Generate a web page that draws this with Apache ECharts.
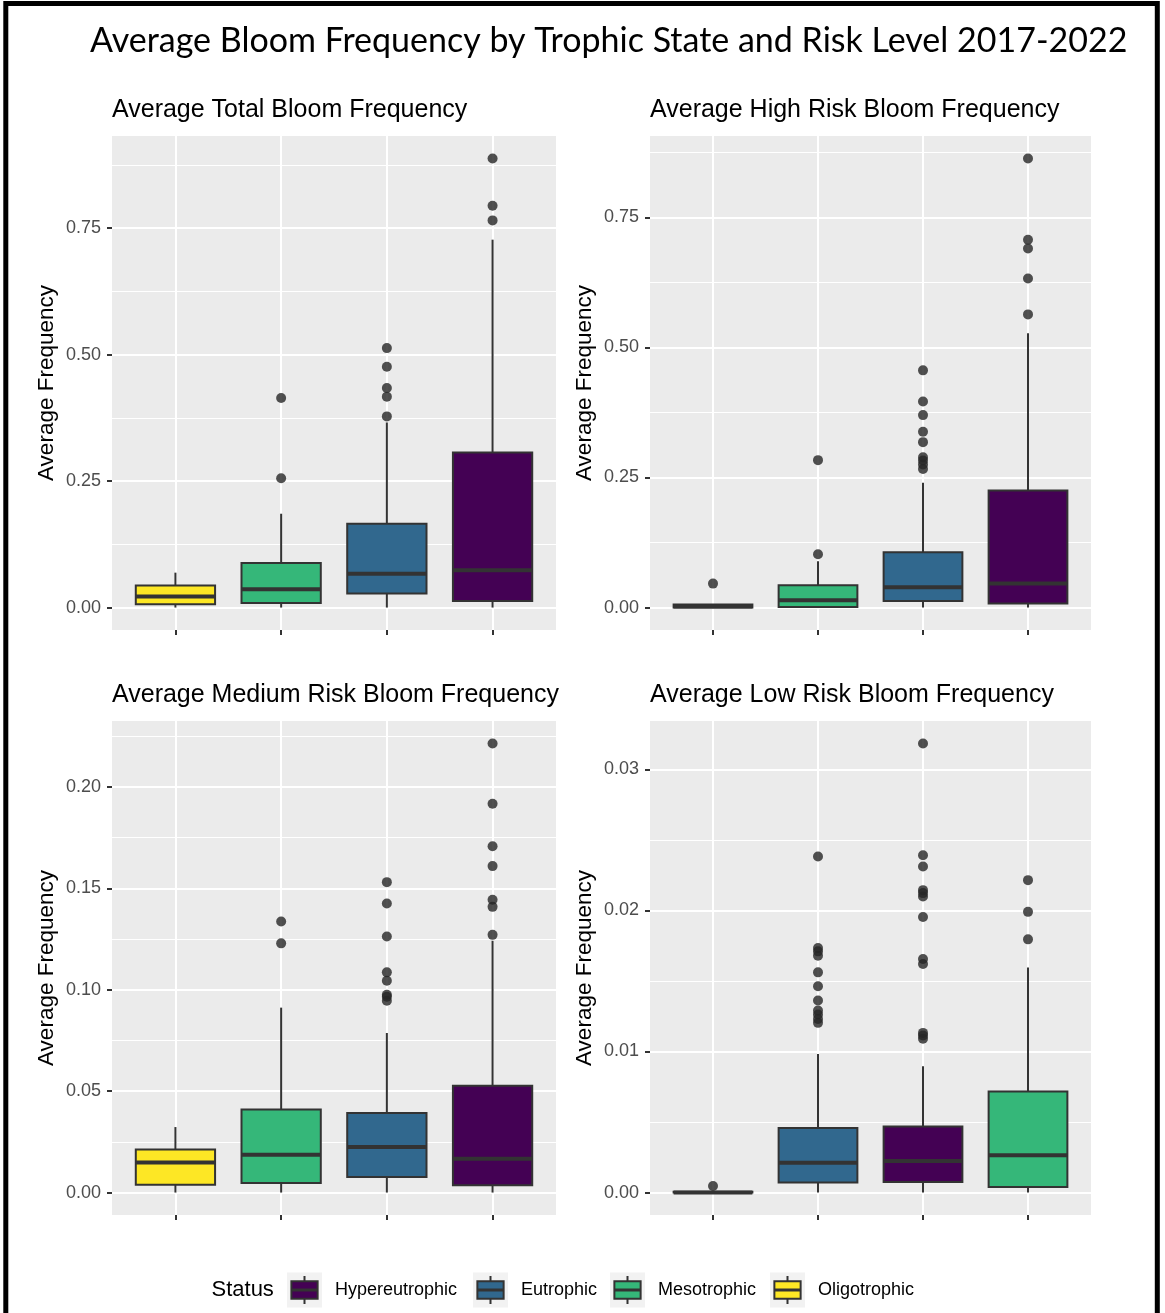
<!DOCTYPE html>
<html>
<head>
<meta charset="utf-8">
<script src="https://cdn.jsdelivr.net/npm/echarts@6/dist/echarts.min.js"></script>
<style>
html,body{margin:0;padding:0;background:#ffffff;}
#chart{width:1165px;height:1313px;}
</style>
</head>
<body>
<div id="chart"></div>
<script>
// ---------------- DATA ----------------
const mainTitle = 'Average Bloom Frequency by Trophic State and Risk Level 2017-2022';
const legendTitle = 'Status';
const legendStatuses = ['Hypereutrophic', 'Eutrophic', 'Mesotrophic', 'Oligotrophic'];
const statusColors = {
  Hypereutrophic: '#440154',
  Eutrophic: '#31688E',
  Mesotrophic: '#35B779',
  Oligotrophic: '#FDE725'
};
const yAxisTitle = 'Average Frequency';

// box stats: [lower whisker, Q1, median, Q3, upper whisker]
const totalTitle = 'Average Total Bloom Frequency';
const totalOrder = ['Oligotrophic', 'Mesotrophic', 'Eutrophic', 'Hypereutrophic'];
const totalBoxes = [
  [0, 0.0065, 0.022, 0.0434, 0.069],
  [0, 0.009, 0.036, 0.088, 0.1855],
  [0, 0.0276, 0.067, 0.1657, 0.366],
  [0, 0.013, 0.0736, 0.3064, 0.7274]
];
const totalOutliers = [
  [],
  [0.2558, 0.4143],
  [0.378, 0.417, 0.434, 0.476, 0.513],
  [0.7655, 0.7945, 0.888]
];
const totalMajorTicks = [0, 0.25, 0.5, 0.75];
const totalMinorTicks = [0.125, 0.375, 0.625, 0.875];
const totalTickLabels = ['0.00', '0.25', '0.50', '0.75'];

const highTitle = 'Average High Risk Bloom Frequency';
const highOrder = ['Oligotrophic', 'Mesotrophic', 'Eutrophic', 'Hypereutrophic'];
const highBoxes = [
  [0, 0, 0.002, 0.006, 0.006],
  [0, 0.001, 0.014, 0.0428, 0.089],
  [0, 0.0128, 0.039, 0.1063, 0.24],
  [0, 0.0077, 0.046, 0.2252, 0.5274]
];
const highOutliers = [
  [0.046],
  [0.1024, 0.2834],
  [0.2662, 0.275, 0.2828, 0.289, 0.318, 0.338, 0.370, 0.396, 0.456],
  [0.5636, 0.6327, 0.6903, 0.7071, 0.8634]
];
const highMajorTicks = [0, 0.25, 0.5, 0.75];
const highMinorTicks = [0.125, 0.375, 0.625, 0.875];
const highTickLabels = ['0.00', '0.25', '0.50', '0.75'];

const mediumTitle = 'Average Medium Risk Bloom Frequency';
const mediumOrder = ['Oligotrophic', 'Mesotrophic', 'Eutrophic', 'Hypereutrophic'];
const mediumBoxes = [
  [0, 0.0039, 0.0148, 0.0212, 0.0323],
  [0, 0.0047, 0.0187, 0.041, 0.0912],
  [0, 0.0077, 0.0225, 0.0392, 0.0787],
  [0, 0.0036, 0.0167, 0.0527, 0.1242]
];
const mediumOutliers = [
  [],
  [0.1229, 0.1337],
  [0.0946, 0.0966, 0.0976, 0.1045, 0.1086, 0.1263, 0.1426, 0.1531],
  [0.1271, 0.1409, 0.1444, 0.161, 0.1708, 0.1918, 0.2215]
];
const mediumMajorTicks = [0, 0.05, 0.10, 0.15, 0.20];
const mediumMinorTicks = [0.025, 0.075, 0.125, 0.175, 0.225];
const mediumTickLabels = ['0.00', '0.05', '0.10', '0.15', '0.20'];

const lowTitle = 'Average Low Risk Bloom Frequency';
const lowOrder = ['Oligotrophic', 'Eutrophic', 'Hypereutrophic', 'Mesotrophic'];
const lowBoxes = [
  [0, 0, 0, 0.00005, 0.0001],
  [0, 0.00071, 0.00212, 0.00457, 0.00983],
  [0, 0.00075, 0.00224, 0.00469, 0.00896],
  [0, 0.0004, 0.00264, 0.00717, 0.01596]
];
const lowOutliers = [
  [0.00047],
  [0.01203, 0.01231, 0.01262, 0.0129, 0.01361, 0.01462, 0.01561, 0.01679, 0.0171, 0.01733, 0.02382],
  [0.0109, 0.01113, 0.01132, 0.0162, 0.01656, 0.01953, 0.02099, 0.02123, 0.02144, 0.02311, 0.02391, 0.03184],
  [0.01795, 0.0199, 0.02215]
];
const lowMajorTicks = [0, 0.01, 0.02, 0.03];
const lowMinorTicks = [0.005, 0.015, 0.025];
const lowTickLabels = ['0.00', '0.01', '0.02', '0.03'];

// ---------------- LAYOUT / STYLE ----------------
const panels = [
  {title: totalTitle, order: totalOrder, boxes: totalBoxes, outliers: totalOutliers, major: totalMajorTicks, minor: totalMinorTicks, labels: totalTickLabels},
  {title: highTitle, order: highOrder, boxes: highBoxes, outliers: highOutliers, major: highMajorTicks, minor: highMinorTicks, labels: highTickLabels},
  {title: mediumTitle, order: mediumOrder, boxes: mediumBoxes, outliers: mediumOutliers, major: mediumMajorTicks, minor: mediumMinorTicks, labels: mediumTickLabels},
  {title: lowTitle, order: lowOrder, boxes: lowBoxes, outliers: lowOutliers, major: lowMajorTicks, minor: lowMinorTicks, labels: lowTickLabels}
];
const panelBoxes = [
  {left: 112, top: 136, width: 444, height: 494},
  {left: 650, top: 136, width: 441, height: 494},
  {left: 112, top: 721, width: 444, height: 494},
  {left: 650, top: 721, width: 441, height: 494}
];
const panelTitleY = [110, 110, 695, 695];
const SANS = '"Liberation Sans", Arial, Helvetica, sans-serif';
const BOX_W = 0.75;
const INK = '#333333';
const PANEL_BG = '#EBEBEB';

const grids = [], xAxes = [], yAxes = [], series = [], graphics = [];

panels.forEach((p, k) => {
  const b = panelBoxes[k];
  grids.push({left: b.left, top: b.top, width: b.width, height: b.height,
    show: true, backgroundColor: PANEL_BG, borderWidth: 0, containLabel: false});

  let dataMax = 0;
  p.boxes.forEach(s => { dataMax = Math.max(dataMax, s[4]); });
  p.outliers.forEach(o => o.forEach(v => { dataMax = Math.max(dataMax, v); }));
  const yMin = -0.05 * dataMax, yMax = 1.05 * dataMax;
  const n = p.order.length;

  xAxes.push({
    type: 'value', gridIndex: k, min: 0.4, max: n + 0.6, position: 'bottom',
    axisLine: {show: false, onZero: false},
    axisTick: {show: true, customValues: p.order.map((_, i) => i + 1), length: 5, lineStyle: {color: INK, width: 2}},
    axisLabel: {show: false, customValues: p.order.map((_, i) => i + 1)},
    splitLine: {show: true, lineStyle: {color: '#FFFFFF', width: 2}}
  });
  yAxes.push({
    type: 'value', gridIndex: k, min: yMin, max: yMax, position: 'left',
    axisLine: {show: false, onZero: false},
    axisTick: {show: true, customValues: p.major, length: 5, lineStyle: {color: INK, width: 2}},
    axisLabel: {show: true, customValues: p.major, margin: 11, color: '#4D4D4D', fontSize: 18, fontFamily: SANS,
      formatter: v => { const i = p.major.findIndex(m => Math.abs(m - v) < 1e-9); return i >= 0 ? p.labels[i] : ''; }},
    splitLine: {show: true, lineStyle: {color: '#FFFFFF', width: 2}},
    name: yAxisTitle, nameLocation: 'middle', nameGap: 54,
    nameTextStyle: {color: '#000000', fontSize: 22.5, fontFamily: SANS}
  });
  yAxes.push({
    type: 'value', gridIndex: k, min: yMin, max: yMax, position: 'right',
    axisLine: {show: false, onZero: false},
    axisTick: {show: false, customValues: p.minor},
    axisLabel: {show: false, customValues: p.minor},
    splitLine: {show: true, lineStyle: {color: '#FFFFFF', width: 1}}
  });

  series.push({
    type: 'custom', xAxisIndex: k, yAxisIndex: 2 * k,
    encode: {x: 0, y: [1, 2, 3, 4, 5]},
    data: p.boxes.map((s, i) => ({value: [i + 1].concat(s), itemStyle: {color: statusColors[p.order[i]]}})),
    renderItem: function (params, api) {
      const x = api.value(0);
      const lo = api.coord([x, api.value(1)]);
      const q1 = api.coord([x, api.value(2)]);
      const md = api.coord([x, api.value(3)]);
      const q3 = api.coord([x, api.value(4)]);
      const hi = api.coord([x, api.value(5)]);
      const w = api.size([BOX_W, 0])[0];
      const cx = q1[0];
      return {type: 'group', children: [
        {type: 'line', shape: {x1: cx, y1: lo[1], x2: cx, y2: q1[1]}, style: {stroke: INK, lineWidth: 2}},
        {type: 'line', shape: {x1: cx, y1: q3[1], x2: cx, y2: hi[1]}, style: {stroke: INK, lineWidth: 2}},
        {type: 'rect', shape: {x: cx - w / 2, y: q3[1], width: w, height: q1[1] - q3[1]},
          style: {fill: api.visual('color'), stroke: INK, lineWidth: 2}},
        {type: 'line', shape: {x1: cx - w / 2, y1: md[1], x2: cx + w / 2, y2: md[1]}, style: {stroke: INK, lineWidth: 4}}
      ]};
    }
  });
  const pts = [];
  p.outliers.forEach((o, i) => o.forEach(v => pts.push([i + 1, v])));
  series.push({
    type: 'scatter', xAxisIndex: k, yAxisIndex: 2 * k, data: pts,
    symbol: 'circle', symbolSize: 10, itemStyle: {color: '#262626'}, z: 5
  });

  graphics.push({type: 'text', x: b.left, y: panelTitleY[k],
    style: {text: p.title, fill: '#000000', font: '25px ' + SANS, textAlign: 'left', textVerticalAlign: 'middle', align: 'left', verticalAlign: 'middle'}});
});

// outer frame
graphics.push({type: 'rect', shape: {x: 5.8, y: 3.5, width: 1151.5, height: 1340},
  style: {fill: 'none', stroke: '#000000', lineWidth: 5}, z: 100});
// main title
graphics.push({type: 'text', x: 90, y: 41,
  style: {text: mainTitle, fill: '#000000', font: '34px Lato, "Open Sans", sans-serif', textAlign: 'left', textVerticalAlign: 'middle', align: 'left', verticalAlign: 'middle'}});

// legend
const legendY = 1290;
const legendKeyX = [287, 473, 610, 770];
const KEY = 35;
graphics.push({type: 'text', x: 211.5, y: legendY,
  style: {text: legendTitle, fill: '#000000', font: '22px ' + SANS, textAlign: 'left', textVerticalAlign: 'middle', align: 'left', verticalAlign: 'middle'}});
legendStatuses.forEach((s, i) => {
  const kx = legendKeyX[i], ky = legendY - KEY / 2;
  graphics.push({type: 'rect', shape: {x: kx, y: ky, width: KEY, height: KEY}, style: {fill: '#F2F2F2'}});
  graphics.push({type: 'line', shape: {x1: kx + KEY / 2, y1: ky + KEY * 0.1, x2: kx + KEY / 2, y2: ky + KEY * 0.9}, style: {stroke: INK, lineWidth: 2}});
  graphics.push({type: 'rect', shape: {x: kx + KEY * 0.125, y: ky + KEY * 0.25, width: KEY * 0.75, height: KEY * 0.5},
    style: {fill: statusColors[s], stroke: INK, lineWidth: 2}});
  graphics.push({type: 'line', shape: {x1: kx + KEY * 0.125, y1: legendY, x2: kx + KEY * 0.875, y2: legendY}, style: {stroke: INK, lineWidth: 3}});
  graphics.push({type: 'text', x: kx + KEY + 13, y: legendY,
    style: {text: s, fill: '#000000', font: '18px ' + SANS, textAlign: 'left', textVerticalAlign: 'middle', align: 'left', verticalAlign: 'middle'}});
});

const chart = echarts.init(document.getElementById('chart'), null, {renderer: 'canvas'});
chart.setOption({
  backgroundColor: '#FFFFFF',
  animation: false,
  grid: grids,
  xAxis: xAxes,
  yAxis: yAxes,
  series: series,
  graphic: graphics
});
</script>
</body>
</html>
